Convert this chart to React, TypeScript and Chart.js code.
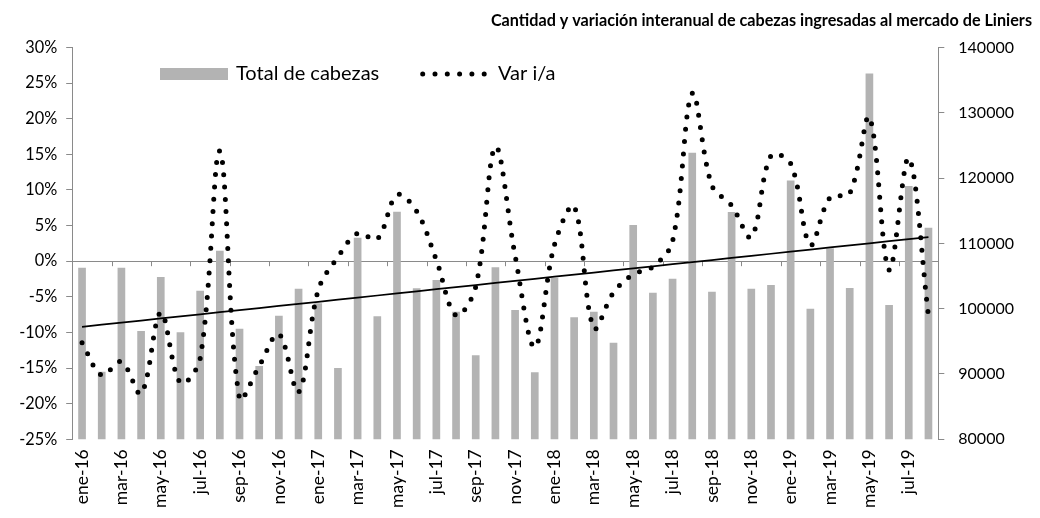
import React, { useEffect, useRef } from 'react';
import { Chart, registerables } from 'chart.js';

Chart.register(...registerables);

const categories = [
  'ene-16', 'feb-16', 'mar-16', 'abr-16', 'may-16', 'jun-16', 'jul-16', 'ago-16', 'sep-16', 'oct-16', 'nov-16', 'dic-16',
  'ene-17', 'feb-17', 'mar-17', 'abr-17', 'may-17', 'jun-17', 'jul-17', 'ago-17', 'sep-17', 'oct-17', 'nov-17', 'dic-17',
  'ene-18', 'feb-18', 'mar-18', 'abr-18', 'may-18', 'jun-18', 'jul-18', 'ago-18', 'sep-18', 'oct-18', 'nov-18', 'dic-18',
  'ene-19', 'feb-19', 'mar-19', 'abr-19', 'may-19', 'jun-19', 'jul-19', 'ago-19',
];

const totalCabezas = [
  106270, 90350, 106270, 96580, 104840, 96380, 102750, 108870, 96930, 91220, 98920, 103050,
  100820, 90910, 110860, 98830, 114840, 103110, 104380, 99530, 92860, 106330, 99790, 90250,
  104740, 98670, 99530, 94790, 112800, 102440, 104590, 123870, 102590, 114790, 103050, 103620,
  119640, 99990, 109240, 103160, 136020, 100560, 118800, 112390,
];

const varIA = [
  -11.45, -16.0, -14.1, -18.6, -7.2, -17.1, -13.7, 15.45, -19.25, -14.7, -10.2, -18.4,
  -4.05, 0.6, 3.9, 3.1, 9.3, 7.0, 0.15, -7.6, -3.6, 16.05, 0.8, -12.1,
  2.3, 7.7, -9.4, -4.4, -1.85, -0.8, 2.8, 23.55, 10.6, 7.8, 3.4, 14.8,
  13.7, 2.3, 8.95, 9.5, 20.2, -1.25, 14.5, -7.65,
];

const leftAxis = { min: -25, max: 30, step: 5 };
const rightAxis = { min: 80000, max: 140000, step: 10000 };

const TITLE = 'Cantidad y variación interanual de cabezas ingresadas al mercado de Liniers';
const LEGEND_BARS = 'Total de cabezas';
const LEGEND_LINE = 'Var i/a';

function linearTrend(values: number[]): number[] {
  const n = values.length;
  const mx = (n - 1) / 2;
  const my = values.reduce((a, b) => a + b, 0) / n;
  let sxy = 0;
  let sxx = 0;
  values.forEach((v, i) => {
    sxy += (i - mx) * (v - my);
    sxx += (i - mx) * (i - mx);
  });
  const b = sxy / sxx;
  const a = my - b * mx;
  return values.map((_, i) => a + b * i);
}

const FONT = 'Lato';
const AXIS = '#8a8a8a';
const BAR = '#b3b3b3';
const DOT_W = 5;
const DOT_GAP = 12.3;

export default function App() {
  const ref = useRef<HTMLCanvasElement>(null);

  useEffect(() => {
    const trend = linearTrend(totalCabezas);

    const extras = {
      id: 'extras',
      beforeDatasetsDraw(chart: any) {
        const { ctx, scales } = chart;
        const x = scales.x;
        const y0 = scales.y.getPixelForValue(0);
        const step = x.width / categories.length;
        ctx.save();
        ctx.strokeStyle = AXIS;
        ctx.lineWidth = 1;
        ctx.beginPath();
        for (let i = 2; i < categories.length; i += 2) {
          const px = Math.round(x.left + i * step) + 0.5;
          ctx.moveTo(px, y0);
          ctx.lineTo(px, y0 + 5);
        }
        ctx.stroke();
        ctx.restore();
      },
      afterDraw(chart: any) {
        const { ctx } = chart;
        ctx.save();
        ctx.fillStyle = BAR;
        ctx.fillRect(152, 60, 68, 12);
        ctx.fillStyle = '#000';
        ctx.font = `20px ${FONT}`;
        ctx.textBaseline = 'middle';
        ctx.textAlign = 'left';
        ctx.fillText(LEGEND_BARS, 228, 66);
        ctx.strokeStyle = '#000';
        ctx.lineWidth = DOT_W;
        ctx.lineCap = 'round';
        ctx.setLineDash([0, DOT_GAP]);
        ctx.beginPath();
        ctx.moveTo(414.7, 66);
        ctx.lineTo(477.5, 66);
        ctx.stroke();
        ctx.setLineDash([]);
        ctx.fillText(LEGEND_LINE, 490, 66);
        ctx.restore();
      },
    };

    const chart = new Chart(ref.current as HTMLCanvasElement, {
      type: 'bar',
      data: {
        labels: categories,
        datasets: [
          {
            type: 'line',
            label: LEGEND_LINE,
            data: varIA,
            yAxisID: 'y',
            borderColor: '#000',
            borderWidth: DOT_W,
            borderDash: [0, DOT_GAP],
            borderCapStyle: 'round',
            pointRadius: 0,
            tension: 0.35,
            order: 0,
          } as any,
          {
            type: 'line',
            label: 'Tendencia',
            data: trend,
            yAxisID: 'y1',
            borderColor: '#000',
            borderWidth: 1.75,
            pointRadius: 0,
            order: 1,
          } as any,
          {
            type: 'bar',
            label: LEGEND_BARS,
            data: totalCabezas,
            yAxisID: 'y1',
            backgroundColor: BAR,
            barPercentage: 0.39,
            categoryPercentage: 1,
            order: 2,
          } as any,
        ],
      },
      options: {
        responsive: true,
        maintainAspectRatio: false,
        animation: false,
        layout: { padding: 0 },
        plugins: {
          legend: { display: false },
          tooltip: { enabled: false },
          title: {
            display: true,
            text: TITLE,
            align: 'end',
            color: '#000',
            font: { family: FONT, size: 16.2, weight: 'bold' },
            padding: { top: 3.5, bottom: 16.5 },
          },
        },
        scales: {
          x: {
            grid: { display: false, drawTicks: false },
            border: { display: false },
            ticks: {
              autoSkip: false,
              minRotation: 90,
              maxRotation: 90,
              padding: 10,
              color: '#000',
              font: { family: FONT, size: 17.5 },
              callback: (_v: any, i: number) => (i % 2 === 0 ? categories[i] : ''),
            },
            afterFit: (s: any) => {
              s.height = 70.7;
            },
          },
          y: {
            position: 'left',
            min: leftAxis.min,
            max: leftAxis.max,
            ticks: {
              stepSize: leftAxis.step,
              padding: 9,
              color: '#000',
              font: { family: FONT, size: 16.3 },
              callback: (v: any) => `${v}%`,
            },
            grid: {
              color: (c: any) => (c.tick && c.tick.value === 0 ? AXIS : 'rgba(0,0,0,0)'),
              tickColor: AXIS,
              tickLength: 6,
              lineWidth: 1,
            },
            border: { color: AXIS, width: 1 },
            afterFit: (s: any) => {
              s.width = 64.2;
            },
          },
          y1: {
            position: 'right',
            min: rightAxis.min,
            max: rightAxis.max,
            ticks: {
              stepSize: rightAxis.step,
              padding: 14,
              color: '#000',
              font: { family: FONT, size: 16 },
              callback: (v: any) => String(v),
            },
            grid: { drawOnChartArea: false, tickColor: AXIS, tickLength: 6 },
            border: { color: AXIS, width: 1 },
            afterFit: (s: any) => {
              s.width = 93.7;
            },
          },
        },
      } as any,
      plugins: [extras],
    });

    return () => chart.destroy();
  }, []);

  return (
    <div style={{ width: 1024, height: 502, position: 'relative' }}>
      <canvas ref={ref} />
    </div>
  );
}
